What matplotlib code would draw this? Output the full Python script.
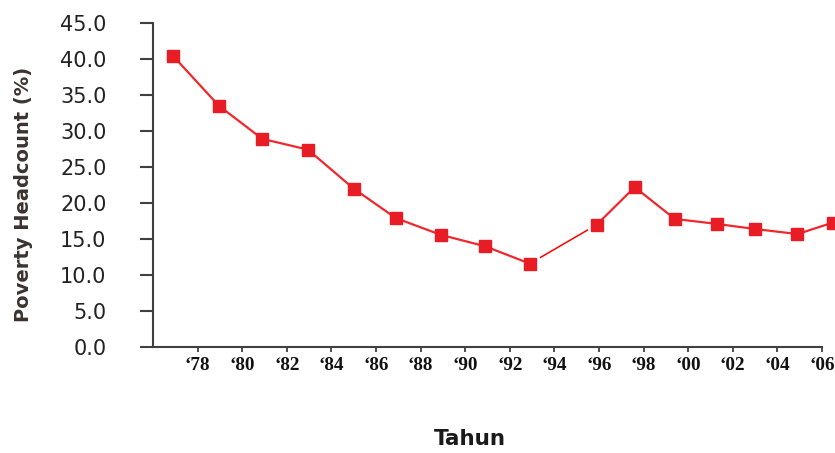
import matplotlib
matplotlib.use("Agg")
import matplotlib.pyplot as plt
import numpy as np

# Data
years_a = [1976.9, 1978.95, 1980.9, 1982.95, 1985.0, 1986.9, 1988.9, 1990.9, 1992.9]
vals_a = [40.4, 33.5, 28.9, 27.4, 22.0, 17.9, 15.6, 14.0, 11.6]
years_b = [1995.9, 1997.6, 1999.4, 2001.3, 2003.0, 2004.9, 2006.5]
vals_b = [17.0, 22.2, 17.8, 17.1, 16.4, 15.7, 17.3]
xtick_years = [1978, 1980, 1982, 1984, 1986, 1988, 1990, 1992, 1994, 1996, 1998, 2000, 2002, 2004, 2006]
xtick_labels = ["\u201878", "\u201880", "\u201882", "\u201884", "\u201886", "\u201888", "\u201890",
                "\u201892", "\u201894", "\u201896", "\u201898", "\u201800", "\u201802", "\u201804", "\u201806"]
yticks = [0, 5, 10, 15, 20, 25, 30, 35, 40, 45]

fig = plt.figure(figsize=(8.35, 4.53), dpi=100)
ax = fig.add_axes([0.1832, 0.2333, 0.8012, 0.7166])

line_col = "#f0282d"
mk_col = "#e81c24"
kw = dict(color=line_col, lw=1.6, marker="s", markersize=8.5,
          markerfacecolor=mk_col, markeredgecolor=mk_col, clip_on=False, zorder=3)
ax.plot(years_a, vals_a, **kw)
ax.plot(years_b, vals_b, **kw)

# thin connector between the two series (partial segment along the gap)
x0, y0 = years_a[-1], vals_a[-1]
x1, y1 = years_b[0], vals_b[0]
f0, f1 = 0.16, 0.86
ax.plot([x0 + f0 * (x1 - x0), x0 + f1 * (x1 - x0)],
        [y0 + f0 * (y1 - y0), y0 + f1 * (y1 - y0)],
        color="#ff0000", lw=1.1, zorder=2)

ax.set_xlim(1976, 2006)
ax.set_ylim(0, 45)
ax.set_yticks(yticks)
ax.set_yticklabels([f"{v:.1f}" for v in yticks], fontsize=15, color="#222222",
                   family="DejaVu Sans")
ax.set_xticks(xtick_years)
ax.set_xticklabels(xtick_labels, fontsize=13.8, fontweight="bold",
                   family="Liberation Serif", color="#111111")

for s in ["top", "right"]:
    ax.spines[s].set_visible(False)
for s in ["left", "bottom"]:
    ax.spines[s].set_color("#404040")
    ax.spines[s].set_linewidth(1.5)
ax.tick_params(axis="y", direction="out", length=9.5, width=1.5, color="#404040", pad=24)
ax.tick_params(axis="x", direction="out", length=3.8, width=1.3, color="#404040", pad=3)

fig.text(24 / 835, 1 - 194 / 453, "Poverty Headcount (%)", rotation=90,
         ha="center", va="center", fontsize=14, fontweight="bold",
         color="#3a3330", family="DejaVu Sans")
fig.text(469.5 / 835, 1 - 439 / 453, "Tahun", ha="center", va="center",
         fontsize=15.5, fontweight="bold", color="#1a1a1a", family="DejaVu Sans")

fig.savefig("out.png", dpi=100)
